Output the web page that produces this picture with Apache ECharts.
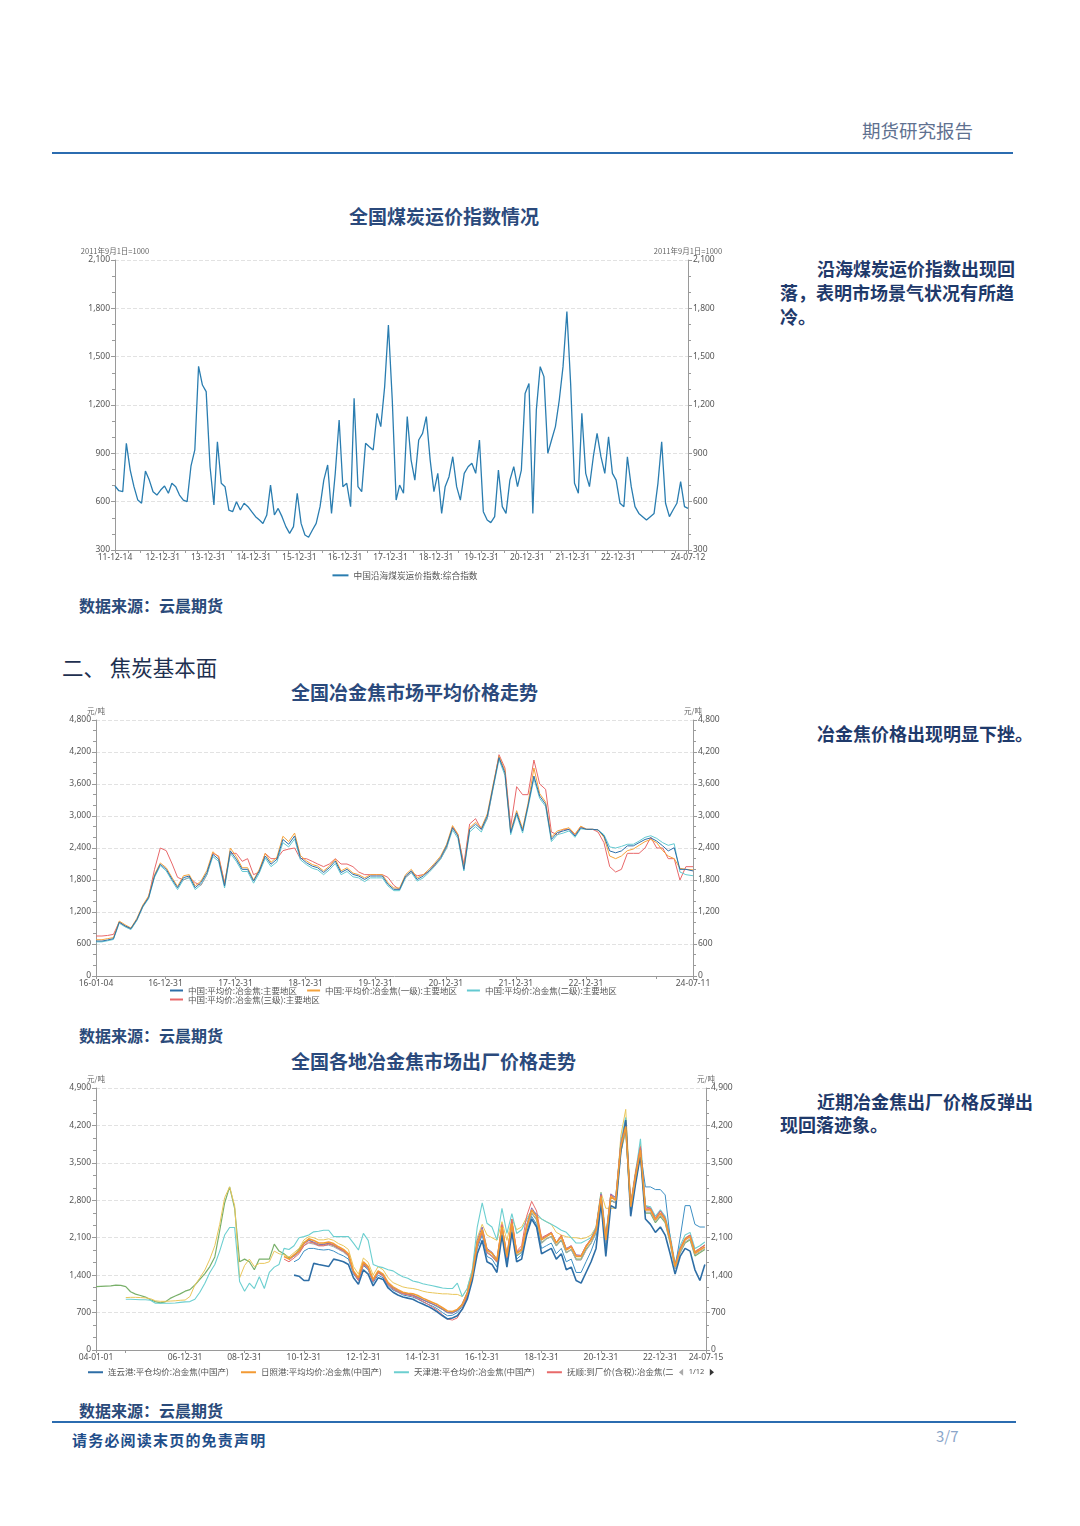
<!DOCTYPE html>
<html><head><meta charset="utf-8">
<script src="https://cdn.jsdelivr.net/npm/echarts@6/dist/echarts.min.js"></script>
<style>
html,body{margin:0;padding:0;background:#fff;}
body{width:1080px;height:1526px;position:relative;overflow:hidden;font-family:"Noto Sans CJK SC","Noto Sans",sans-serif;color:#1f3a6b;}
.t{position:absolute;white-space:nowrap;line-height:1;}
.b{font-weight:bold;}
.h{font-weight:bold;color:#2b4a7c;}
.chart{position:absolute;}
</style></head><body>
<div class="t" style="left:862px;top:121px;font-size:18.5px;color:#5f7190;">期货研究报告</div>
<div style="position:absolute;left:52px;top:152px;width:961px;height:2px;background:#2b6cb0;"></div>

<div class="t h" style="left:349px;top:206px;font-size:19px;">全国煤炭运价指数情况</div>
<div class="t b" style="left:817px;top:259px;font-size:18px;">沿海煤炭运价指数出现回</div>
<div class="t b" style="left:780px;top:283px;font-size:18px;">落，表明市场景气状况有所趋</div>
<div class="t b" style="left:780px;top:307px;font-size:18px;">冷。</div>
<div id="c1" class="chart" style="left:60px;top:238px;width:690px;height:345px;"></div>
<div class="t" style="left:79px;top:597px;font-size:16px;font-weight:600;color:#2a4a7a;">数据来源：云晨期货</div>

<div class="t" style="left:62px;top:656px;font-size:21.5px;color:#1e3050;">二、 焦炭基本面</div>
<div class="t h" style="left:291px;top:682px;font-size:19px;">全国冶金焦市场平均价格走势</div>
<div class="t b" style="left:817px;top:724px;font-size:18px;">冶金焦价格出现明显下挫。</div>
<div id="c2" class="chart" style="left:60px;top:705px;width:690px;height:300px;"></div>
<div class="t" style="left:79px;top:1027px;font-size:16px;font-weight:600;color:#2a4a7a;">数据来源：云晨期货</div>

<div class="t h" style="left:291px;top:1051px;font-size:19px;">全国各地冶金焦市场出厂价格走势</div>
<div class="t b" style="left:817px;top:1092px;font-size:18px;">近期冶金焦出厂价格反弹出</div>
<div class="t b" style="left:780px;top:1115px;font-size:18px;">现回落迹象。</div>
<div id="c3" class="chart" style="left:60px;top:1072px;width:690px;height:315px;"></div>
<div class="t" style="left:79px;top:1402px;font-size:16px;font-weight:600;color:#2a4a7a;">数据来源：云晨期货</div>

<div style="position:absolute;left:52px;top:1421px;width:964px;height:2px;background:#2b6cb0;"></div>
<div class="t b" style="left:72px;top:1432px;font-size:15px;letter-spacing:1.2px;color:#1f4e8a;">请务必阅读末页的免责声明</div>
<div class="t" style="left:936px;top:1428px;font-size:15px;color:#8ca6c9;">3/7</div>

<script>
// ---------- helpers ----------
const T = s => Date.parse(s + 'T00:00:00Z');
function monthly(y, m, count, day) { const a = []; for (let i = 0; i < count; i++) a.push(Date.UTC(y, m - 1 + i, day)); return a; }
function everyNMonths(y, m, count, step) { const a = []; for (let i = 0; i < count; i++) a.push(Date.UTC(y, m - 1 + i * step, 1)); return a; }
function monthEnds(y, m, count, step) { const a = []; for (let i = 0; i < count; i++) a.push(Date.UTC(y, m + i * step, 0)); return a; }

// ---------- chart 1 data: 中国沿海煤炭运价指数 (monthly) ----------
const coalName = '中国沿海煤炭运价指数:综合指数';
const coalDates = monthly(2011, 12, 152, 14); coalDates[0] = T('2011-12-14'); coalDates[151] = T('2024-07-12');
const coalIndex = [697,
 668,662,962,796,693,610,590,790,734,662,641,672,
 697,652,714,693,641,610,600,820,921,1440,1324,1283,
 817,579,972,714,693,548,538,600,548,590,569,538,
 507,486,465,517,703,517,558,507,445,403,445,652,
 465,393,379,424,465,569,734,828,527,776,1107,693,
 714,569,1241,693,662,962,941,921,1148,1066,1314,1697,
 1231,610,703,652,1128,858,734,983,1024,1128,858,662,
 776,527,693,755,879,693,610,776,817,838,776,983,
 538,486,470,507,796,569,527,734,817,693,796,1272,
 1334,527,1169,1438,1376,900,983,1066,1231,1438,1780,1334,
 714,652,1148,776,693,879,1024,879,776,1003,776,734,
 590,569,879,693,569,527,507,486,507,527,714,972,
 590,507,548,590,724,569,558];
const coalLabels = ['2011-12-14','2012-12-31','2013-12-31','2014-12-31','2015-12-31','2016-12-31','2017-12-31','2018-12-31','2019-12-31','2020-12-31','2021-12-31','2022-12-31','2024-07-12'];

// ---------- chart 2 data: 冶金焦平均价 (monthly, 元/吨) ----------
const cokeDates = monthly(2016, 1, 103, 4); cokeDates[102] = T('2024-07-11');
const cokeNames = ['中国:平均价:冶金焦:主要地区','中国:平均价:冶金焦(一级):主要地区','中国:平均价:冶金焦(二级):主要地区','中国:平均价:冶金焦(三级):主要地区'];
const cokeMain = [656,655,675,700,1010,940,890,1060,1310,1470,1875,2095,
 2000,1810,1655,1845,1875,1655,1750,1940,2280,2190,1690,2345,
 2190,2000,2000,1780,1970,2250,2095,2190,2560,2470,2625,2220,
 2125,2060,2030,1940,2030,2155,1940,2000,1905,1875,1810,1875,
 1875,1875,1720,1625,1625,1875,1970,1810,1875,1970,2095,2220,
 2440,2780,2625,2000,2750,2845,2750,3000,3560,4095,3810,2690,
 3060,2720,3190,3750,3375,3220,2560,2690,2720,2750,2625,2780,
 2750,2750,2740,2625,2345,2310,2345,2440,2440,2500,2560,2590,
 2530,2440,2345,2405,2000,2000,1970];
const cokeGrade1 = [680,680,700,720,1030,960,900,1080,1330,1500,1900,2120,
 2030,1840,1680,1880,1900,1690,1780,1980,2330,2230,1720,2400,
 2240,2030,2030,1800,2000,2300,2130,2230,2620,2520,2680,2260,
 2160,2090,2060,1970,2060,2190,1970,2030,1930,1900,1840,1900,
 1900,1900,1750,1650,1650,1900,2000,1840,1900,2000,2120,2250,
 2470,2820,2660,2030,2780,2880,2780,3040,3600,4120,3850,2720,
 3100,2760,3230,3900,3420,3260,2600,2720,2750,2780,2660,2810,
 2750,2750,2740,2600,2250,2200,2250,2350,2380,2450,2520,2560,
 2500,2350,2250,2200,2020,2000,1990];
const cokeGrade2 = [640,640,660,685,990,920,870,1040,1290,1450,1850,2070,
 1970,1780,1620,1810,1840,1620,1710,1900,2240,2150,1650,2300,
 2150,1960,1960,1740,1930,2210,2050,2140,2500,2420,2570,2180,
 2090,2020,1990,1900,1990,2110,1900,1960,1860,1840,1770,1840,
 1840,1840,1690,1600,1600,1840,1940,1780,1840,1940,2060,2190,
 2400,2740,2580,1970,2700,2800,2700,2960,3520,4060,3760,2650,
 3020,2680,3150,3700,3330,3180,2520,2650,2680,2720,2600,2760,
 2750,2750,2740,2650,2420,2400,2430,2470,2470,2530,2600,2630,
 2580,2500,2450,2480,1950,1900,1880];
const cokeGrade3 = [750,750,760,780,1010,930,880,1050,1300,1480,2000,2400,
 2350,2100,1850,1800,1850,1750,1700,1900,2300,2250,1750,2300,
 2300,2150,2200,1900,1950,2300,2200,2200,2350,2380,2400,2200,
 2200,2150,2100,2050,2100,2200,2100,2100,2050,1950,1900,1900,
 1900,1900,1850,1700,1620,1850,1940,1880,1900,1960,2080,2200,
 2400,2800,2650,2100,2850,2950,2750,2950,3550,4150,3900,2800,
 3550,3400,3400,4050,3600,3500,2700,2650,2750,2750,2650,2800,
 2750,2750,2700,2500,2050,1950,2000,2300,2300,2300,2400,2600,
 2400,2400,2200,2200,1800,2050,2050];
const cokeLabels = ['2016-01-04','2016-12-31','2017-12-31','2018-12-31','2019-12-31','2020-12-31','2021-12-31','2022-12-31','2024-07-11'];

// ---------- chart 3 data: 各地冶金焦出厂价 (bimonthly from 2004-01, 元/吨) ----------
const plantDates = everyNMonths(2004, 1, 124, 2);
const lygName = '连云港:平仓均价:冶金焦(中国产)', lygStart = '2010-09';
const lygValues = [1400,1380,1300,1300,1620,1600,1580,1560,
 1700,1680,1650,1600,1350,1230,1500,1420,1200,1350,
 1320,1160,1080,1030,990,970,950,900,860,820,
 770,710,640,580,600,640,760,950,1300,1800,
 2050,1650,1600,1450,2150,1550,2200,1650,1700,2150,
 2450,2300,1800,1850,1900,1700,1800,1500,1550,1300,
 1250,1450,1650,1900,2750,1750,2700,2650,3700,4300,
 2500,3100,3650,2450,2350,2200,2300,2150,1800,1420,
 1750,1900,1850,1500,1300,1600];
const rzName = '日照港:平均均价:冶金焦(中国产)', rzStart = '2010-05';
const rzValues = [1750,1700,1780,1850,2000,2080,2050,2000,2000,2020,
 1990,1930,1880,1800,1480,1350,1650,1560,1320,1480,
 1420,1260,1180,1130,1080,1060,1050,1020,970,930,
 890,850,790,730,720,760,850,1060,1400,2000,
 2250,1870,1810,1680,2300,1750,2370,1810,1870,2300,
 2620,2490,2060,2120,2180,2000,2120,1870,1930,1750,
 1750,1930,2060,2240,2870,2060,2870,2800,3800,4180,
 2680,3240,3740,2620,2620,2430,2560,2430,2060,1560,
 1870,2060,2120,1810,1870,1930];
const tjName = '天津港:平仓均价:冶金焦(中国产)', tjStart = '2005-01';
const tjValues = [950,950,945,940,940,930,
 875,875,875,875,880,890,
 900,905,950,1080,1250,1450,
 1600,1850,2150,2290,2290,1280,
 1100,1250,1150,1370,1150,1450,
 1550,1600,
 1900,1880,1950,2100,2120,2150,2210,2220,2240,2240,
 2120,2120,2120,2120,2000,1870,2180,2050,1600,1560,
 1540,1500,1480,1420,1370,1340,1290,1270,1240,1220,
 1200,1180,1160,1150,1150,1250,1000,1150,1500,2300,
 2750,2370,2300,2060,2650,2180,2550,2180,2250,2430,
 2600,2550,2450,2400,2350,2300,2240,2200,2100,2000,
 2000,2050,2100,2300,2950,2150,2900,2850,3900,4350,
 2700,3300,3950,2700,2680,2500,2620,2500,2150,1620,
 1950,2150,2200,1900,1950,2020];
const fsName = '抚顺:到厂价(含税):冶金焦(二级)', fsStart = '2010-05';
const fsValues = [1700,1650,1720,1800,1950,2020,2000,1950,1950,1980,
 1960,1900,1850,1780,1450,1300,1600,1530,1280,1450,
 1380,1220,1140,1090,1050,1030,1010,960,910,860,
 800,740,660,580,560,600,780,1000,1350,1950,
 2200,1820,1750,1650,2350,1720,2450,1850,1950,2500,
 2780,2600,2100,2150,2200,2000,2150,1880,1950,1760,
 1760,1950,2080,2260,2900,2080,2900,2820,3850,4250,
 2700,3300,3800,2650,2650,2460,2600,2460,2080,1580,
 1900,2080,2150,1830,1900,1960];
const tyName = '太原:车板价(含税):冶金焦(二级)', tyStart = '2004-01';
const tyValues = [1185,1190,1195,1200,1215,1210,1185,1090,1045,1020,990,940,905,880,900,965,1010,1050,1100,1130,1215,1320,1430,1560,1740,2230,2750,3050,2650,1650,1700,1650,1500,1700,1700,1700,1980,1850,
 1800,1720,1760,1880,2010,2060,2000,1960,1980,1990,
 1950,1900,1850,1760,1450,1330,1620,1520,1300,1450,
 1400,1240,1160,1100,1060,1040,1020,990,940,900,
 860,810,760,700,700,740,840,1040,1380,1950,
 2200,1830,1760,1650,2250,1700,2300,1760,1830,2250,
 2560,2440,2000,2080,2120,1950,2060,1820,1880,1700,
 1700,1880,2000,2200,2800,2000,2800,2750,3700,4100,
 2600,3150,3650,2560,2560,2380,2500,2380,2000,1520,
 1820,2000,2060,1760,1820,1880];
const tsName = '唐山:到厂价(含税):冶金焦(二级)', tsStart = '2005-01';
const tsValues = [980,985,985,980,975,960,
 920,910,910,915,920,930,
 935,1000,1215,1350,1496,1700,
 1950,2350,2850,3050,2700,1350,
 1580,1700,1560,1620,1620,1650,
 1850,1800,
 1780,1740,1820,1900,2060,2120,2100,2060,2060,2080,
 2050,1990,1950,1880,1560,1420,1720,1640,1400,1560,
 1500,1350,1260,1220,1180,1160,1150,1130,1100,1080,
 1070,1060,1050,1050,1040,1040,1000,1150,1500,2100,
 2350,2150,2100,2050,2400,2050,2450,2250,2300,2480,
 2600,2500,2450,2400,2350,2200,2150,2120,2100,2100,
 2080,2100,2150,2300,2950,2650,2650,2650,4000,4500,
 2750,3350,3850,2700,2650,2500,2600,2480,2100,1600,
 1900,2100,2150,1850,1900,1970];
const hdName = '邯郸:出厂价(含税):冶金焦(二级)', hdStart = '2010-07';
const hdValues = [1680,1760,1840,1980,2050,2020,1980,1970,2000,
 1970,1910,1860,1770,1460,1320,1630,1540,1300,1460,
 1400,1240,1170,1120,1070,1050,1030,980,940,900,
 860,820,760,700,690,740,870,1080,1420,2050,
 2300,1900,1830,1700,2330,1780,2400,1830,1900,2330,
 2660,2520,2080,2140,2200,2020,2140,1900,1950,1780,
 1770,1950,2080,2270,2920,2100,2920,2850,3850,4250,
 2720,3300,3800,2680,2650,2460,2600,2460,2080,1580,
 1900,2080,2150,1830,1900,1960];
const qdName = '青岛港:平仓价:冶金焦(中国产)', qdStart = '2010-09';
const qdValues = [1650,1700,1850,1900,1900,1880,1870,1880,
 1850,1800,1760,1700,1420,1300,1580,1500,1260,1400,
 1350,1200,1120,1080,1030,1010,990,950,900,860,
 820,770,700,640,650,700,820,1020,1350,1900,
 2150,1750,1700,1550,2200,1650,2250,1700,1780,2200,
 2500,2350,1900,1950,2000,1800,1900,1650,1700,1450,
 1450,1650,1850,2100,2850,1900,2800,2750,3750,4200,
 2600,3150,3700,3050,3050,3000,3000,2900,2100,1550,
 2100,2700,2700,2350,2300,2300];
const lfName = '临汾:出厂价(含税):冶金焦(二级)', lfStart = '2010-09';
const lfValues = [1750,1820,1950,2000,1980,1950,1950,1960,
 1930,1880,1830,1750,1440,1310,1600,1510,1290,1440,
 1380,1220,1150,1110,1060,1040,1020,980,940,900,
 860,810,760,700,690,730,830,1020,1360,1950,
 2200,1830,1760,1640,2250,1720,2320,1780,1830,2250,
 2560,2440,2000,2080,2120,1950,2060,1820,1880,1680,
 1680,1860,2000,2180,2800,2000,2800,2750,3720,4120,
 2620,3180,3680,2580,2580,2400,2520,2400,2020,1520,
 1820,2020,2080,1780,1840,1900];
const plantLabels = ['2004-01-01','2006-12-31','2008-12-31','2010-12-31','2012-12-31','2014-12-31','2016-12-31','2018-12-31','2020-12-31','2022-12-31','2024-07-15'];

// ---------- build ----------
const pad = n => String(n).padStart(2, '0');
const fmtDate = v => { const d = new Date(v); return pad(d.getUTCFullYear() % 100) + '-' + pad(d.getUTCMonth() + 1) + '-' + pad(d.getUTCDate()); };
const fmtNum = v => echarts.format.addCommas(v);
const FONT = '"Noto Sans","Noto Sans CJK SC",sans-serif';
const CJK = '"Noto Sans CJK SC",sans-serif';
const AX = '#9a9a9a';

function pairs(dates, vals, offset) { return vals.map((v, i) => [dates[i + (offset || 0)], v]); }
function bimonthOffset(s) { const y = +s.slice(0, 4), m = +s.slice(5, 7); return (y - 2004) * 6 + (m - 1) / 2; }

function xAxisCfg(min, max, labels, ticks) {
  return {
    type: 'value', min: min, max: max,
    axisLine: { lineStyle: { color: AX, width: 1 } },
    axisTick: { show: true, customValues: ticks, length: 3, lineStyle: { color: AX } },
    axisLabel: { customValues: labels, formatter: fmtDate, fontSize: 8.5, color: '#555', margin: 3, fontFamily: FONT },
    splitLine: { show: false }
  };
}
function yAxisCfg(min, max, interval, name, pos) {
  return {
    type: 'value', min: min, max: max, interval: interval, position: pos,
    name: name, nameLocation: 'end', nameGap: 5,
    nameTextStyle: { fontSize: 7.5, color: '#666', fontFamily: CJK, align: 'center' },
    axisLine: { show: true, lineStyle: { color: AX } },
    axisTick: { show: true, length: 4, lineStyle: { color: AX } },
    minorTick: { show: true, splitNumber: 3, length: 3, lineStyle: { color: AX } },
    axisLabel: { formatter: fmtNum, fontSize: 8.5, color: '#555', margin: 5, fontFamily: FONT },
    splitLine: { show: pos === 'left', lineStyle: { type: 'dashed', color: '#e2e2e2' } }
  };
}
function lineSeries(name, data, color, width, yIdx) {
  return { name: name, type: 'line', data: data, showSymbol: false, symbol: 'none', yAxisIndex: yIdx || 0,
    lineStyle: { color: color, width: width }, itemStyle: { color: color }, emphasis: { disabled: true } };
}

// chart 1
const c1 = echarts.init(document.getElementById('c1'));
const coalTicks = [T('2011-12-14')].concat(monthEnds(2012, 3, 50, 3)).concat([T('2024-07-12')]);
c1.setOption({
  animation: false,
  textStyle: { fontFamily: FONT },
  grid: { left: 55, right: 62, top: 22, bottom: 33 },
  legend: { data: [coalName], left: 'center', top: 328, icon: 'rect', itemWidth: 16, itemHeight: 2,
    textStyle: { fontSize: 8.7, color: '#555', fontFamily: CJK } },
  xAxis: xAxisCfg(T('2011-12-14'), T('2024-07-12'), coalLabels.map(T), coalTicks),
  yAxis: [yAxisCfg(300, 2100, 300, '2011年9月1日=1000', 'left'), yAxisCfg(300, 2100, 300, '2011年9月1日=1000', 'right')],
  series: [lineSeries(coalName, pairs(coalDates, coalIndex), '#2a7db0', 1.3)]
});

// chart 2
const c2 = echarts.init(document.getElementById('c2'));
const cokeColors = ['#2c6ea8', '#f5a33c', '#63c9d1', '#e8686a'];
const cokeLegendText = { fontSize: 8.5, color: '#555', fontFamily: CJK, lineHeight: 9 };
c2.setOption({
  animation: false,
  textStyle: { fontFamily: FONT },
  grid: { left: 36, right: 57, top: 15, bottom: 29 },
  legend: [
    { data: cokeNames.slice(0, 3), left: 110, top: 281, padding: 0, icon: 'rect', itemWidth: 13, itemHeight: 2, itemGap: 10, textStyle: cokeLegendText },
    { data: cokeNames.slice(3), left: 110, top: 290, padding: 0, icon: 'rect', itemWidth: 13, itemHeight: 2, itemGap: 10, textStyle: cokeLegendText }
  ],
  xAxis: xAxisCfg(T('2016-01-04'), T('2024-07-11'), cokeLabels.map(T), cokeLabels.map(T).concat([T('2023-12-31')])),
  yAxis: [yAxisCfg(0, 4800, 600, '元/吨', 'left'), yAxisCfg(0, 4800, 600, '元/吨', 'right')],
  series: [
    lineSeries(cokeNames[3], pairs(cokeDates, cokeGrade3), cokeColors[3], 1),
    lineSeries(cokeNames[2], pairs(cokeDates, cokeGrade2), cokeColors[2], 1),
    lineSeries(cokeNames[1], pairs(cokeDates, cokeGrade1), cokeColors[1], 1),
    lineSeries(cokeNames[0], pairs(cokeDates, cokeMain), cokeColors[0], 1)
  ]
});

// chart 3
const c3 = echarts.init(document.getElementById('c3'));
const plantSeries = [
  [tyName, tyValues, tyStart, '#79b06a', 1.2],
  [tsName, tsValues, tsStart, '#e9c65a', 1],
  [tjName, tjValues, tjStart, '#6ccfd0', 1.1],
  [qdName, qdValues, qdStart, '#3d8fc4', 1],
  [lfName, lfValues, lfStart, '#a9a9b0', 1],
  [hdName, hdValues, hdStart, '#8b6bb3', 1],
  [fsName, fsValues, fsStart, '#e86a6a', 1],
  [lygName, lygValues, lygStart, '#2e6ea6', 1.6],
  [rzName, rzValues, rzStart, '#f39a33', 1.6]
];
const plantTicks = plantLabels.map(T).concat([T('2004-12-31')]);
c3.setOption({
  animation: false,
  textStyle: { fontFamily: FONT },
  grid: { left: 36, right: 44, top: 16, bottom: 37 },
  legend: { type: 'scroll', data: [lygName, rzName, tjName, fsName, tyName, tsName, hdName, qdName, lfName],
    left: 28, top: 296, width: 626, padding: 0, icon: 'rect', itemWidth: 15, itemHeight: 2, itemGap: 12,
    pageFormatter: '{current}/12', pageIconSize: 7, pageButtonItemGap: 4, pageButtonGap: 6,
    pageIconColor: '#333', pageIconInactiveColor: '#aaa',
    pageTextStyle: { fontSize: 7.5, color: '#555' },
    textStyle: { fontSize: 8.5, color: '#555', fontFamily: CJK } },
  xAxis: xAxisCfg(T('2004-01-01'), T('2024-07-15'), plantLabels.map(T), plantTicks),
  yAxis: [yAxisCfg(0, 4900, 700, '元/吨', 'left'), yAxisCfg(0, 4900, 700, '元/吨', 'right')],
  series: plantSeries.map(s => lineSeries(s[0], pairs(plantDates, s[1], bimonthOffset(s[2])), s[3], s[4]))
});
</script>
</body></html>
